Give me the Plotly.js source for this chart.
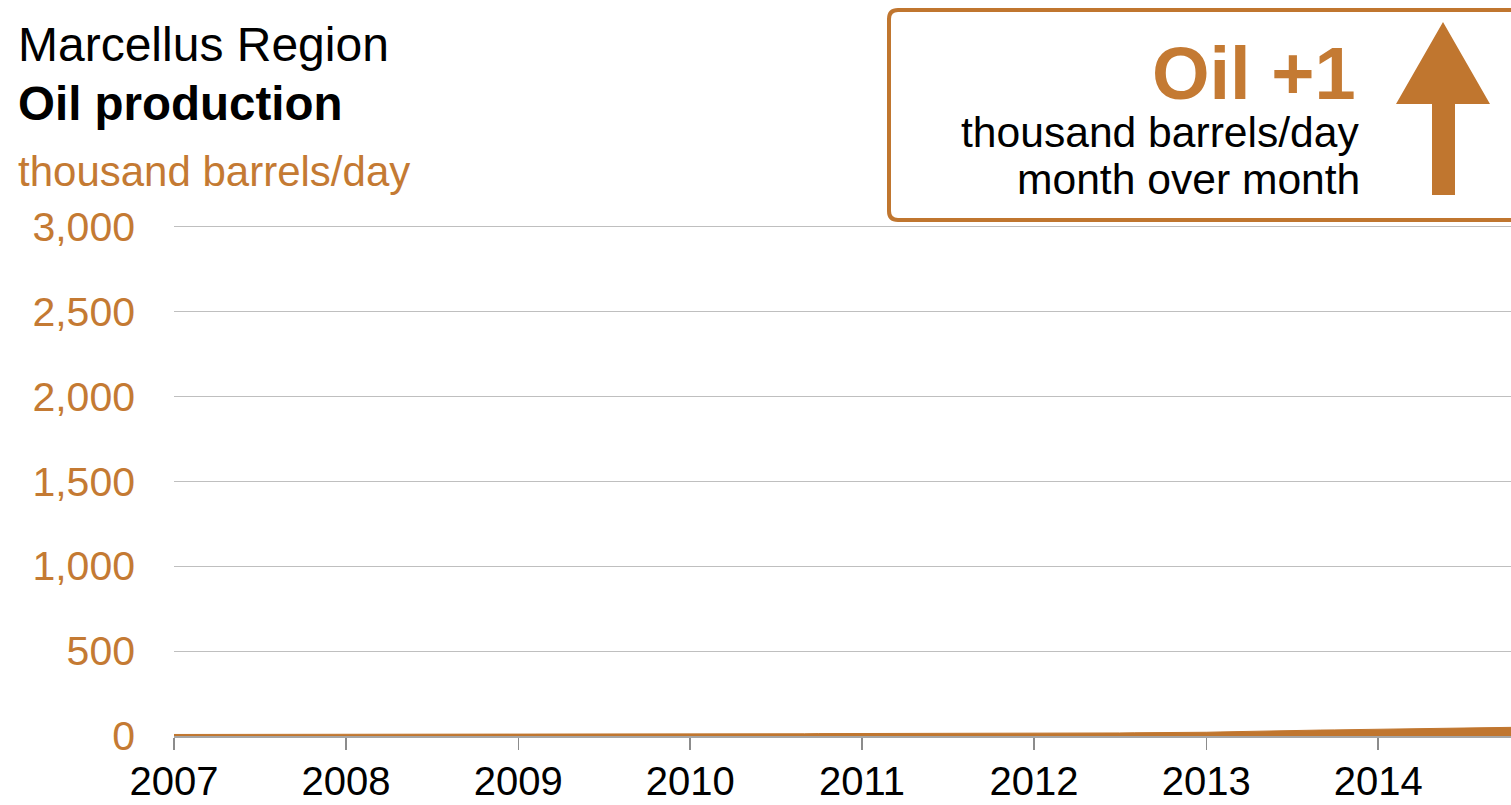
<!DOCTYPE html>
<html>
<head>
<meta charset="utf-8">
<script src="https://cdn.plot.ly/plotly-3.0.1.min.js"></script>
<style>html,body{margin:0;padding:0;background:#fff;}#chart{width:1511px;height:805px;}</style>
</head>
<body>
<div id="chart"></div>
<script>
// Monthly Marcellus oil production, thousand barrels/day
const months = [];
for (let y = 2007; y <= 2014; y++) {
  for (let m = 1; m <= 12; m++) months.push(y + '-' + String(m).padStart(2, '0') + '-01');
}
const prod2007 = [9,9,9,9,10,10,10,10,10,11,11,11];
const prod2008 = [11,11,12,12,12,12,12,12,13,13,13,13];
const prod2009 = [12,12,12,12,11,11,11,11,12,12,12,12];
const prod2010 = [12,12,12,12,13,13,13,13,13,14,14,14];
const prod2011 = [14,14,15,15,15,15,16,16,16,16,17,17];
const prod2012 = [17,17,17,18,18,18,18,19,19,19,20,21];
const prod2013 = [22,24,26,28,30,31,32,33,35,36,37,38];
const prod2014 = [39,40,41,42,43,44,45,46,48,49,51,53];
const production = [].concat(prod2007, prod2008, prod2009, prod2010, prod2011, prod2012, prod2013, prod2014);

const yTicks = [0, 500, 1000, 1500, 2000, 2500, 3000];
const yTickLabels = ['0', '500', '1,000', '1,500', '2,000', '2,500', '3,000'];

const ORANGE = '#C0762F';
const ORANGE_TEXT = '#C47A33';
const FONT = '"Liberation Sans", Arial, sans-serif';

// plot area in pixels
const L = 174, R = 1511, T = 223, B = 736;
const px = x => (x - L) / (R - L);
const py = y => (B - y) / (B - T);

const trace = {
  x: months,
  y: production,
  type: 'scatter',
  mode: 'lines',
  fill: 'tozeroy',
  fillcolor: ORANGE,
  line: {color: ORANGE, width: 1},
  hoverinfo: 'x+y'
};

// rounded box path
function roundRect(x0, y0, x1, y1, r) {
  return 'M' + px(x0 + r) + ',' + py(y0) +
    ' L' + px(x1 - r) + ',' + py(y0) +
    ' Q' + px(x1) + ',' + py(y0) + ' ' + px(x1) + ',' + py(y0 + r) +
    ' L' + px(x1) + ',' + py(y1 - r) +
    ' Q' + px(x1) + ',' + py(y1) + ' ' + px(x1 - r) + ',' + py(y1) +
    ' L' + px(x0 + r) + ',' + py(y1) +
    ' Q' + px(x0) + ',' + py(y1) + ' ' + px(x0) + ',' + py(y1 - r) +
    ' L' + px(x0) + ',' + py(y0 + r) +
    ' Q' + px(x0) + ',' + py(y0) + ' ' + px(x0 + r) + ',' + py(y0) + ' Z';
}
function arrowPath() {
  const pts = [[1443,22],[1490,104],[1455,104],[1455,195],[1432,195],[1432,104],[1396,104]];
  return 'M' + pts.map(p => px(p[0]) + ',' + py(p[1])).join(' L') + ' Z';
}

const layout = {
  width: 1511, height: 805,
  margin: {l: L, r: 0, t: T, b: 805 - B, pad: 0},
  paper_bgcolor: '#fff', plot_bgcolor: '#fff',
  showlegend: false,
  font: {family: FONT, size: 41, color: '#000'},
  xaxis: {
    type: 'date',
    range: ['2007-01-01', '2014-10-10'],
    tick0: '2007-01-01', dtick: 'M12', tickformat: '%Y',
    ticks: 'outside', ticklen: 12, tickwidth: 1.5, tickcolor: '#8C8C8C',
    showline: true, linecolor: '#A6A6A6', linewidth: 2,
    showgrid: false, zeroline: false,
    layer: 'below traces',
    ticklabelstandoff: -3,
    tickfont: {family: FONT, size: 40, color: '#000'}
  },
  yaxis: {
    range: [0, 3020],
    tickvals: yTicks, ticktext: yTickLabels,
    ticks: '', showline: false,
    gridcolor: '#BFBFBF', gridwidth: 1,
    zeroline: false,
    ticklabelstandoff: 38,
    tickfont: {family: FONT, size: 41, color: ORANGE_TEXT}
  },
  shapes: [
    {type: 'path', xref: 'paper', yref: 'paper', path: roundRect(889, 10, 1530, 220, 9),
     line: {color: ORANGE, width: 4}, fillcolor: 'rgba(255,255,255,0)', layer: 'above'},
    {type: 'path', xref: 'paper', yref: 'paper', path: arrowPath(),
     line: {width: 0}, fillcolor: ORANGE, layer: 'above'}
  ],
  annotations: [
    {text: 'Marcellus Region', xref: 'paper', yref: 'paper', x: px(16), y: py(45),
     xanchor: 'left', yanchor: 'middle', showarrow: false,
     font: {family: FONT, size: 48, color: '#000'}},
    {text: '<b>Oil production</b>', xref: 'paper', yref: 'paper', x: px(16), y: py(103),
     xanchor: 'left', yanchor: 'middle', showarrow: false,
     font: {family: FONT, size: 47.5, color: '#000'}},
    {text: 'thousand barrels/day', xref: 'paper', yref: 'paper', x: px(16), y: py(171),
     xanchor: 'left', yanchor: 'middle', showarrow: false,
     font: {family: FONT, size: 42, color: ORANGE_TEXT}},
    {text: '<b>Oil +1</b>', xref: 'paper', yref: 'paper', x: px(1358), y: py(74),
     xanchor: 'right', yanchor: 'middle', showarrow: false,
     font: {family: FONT, size: 74, color: ORANGE_TEXT}},
    {text: 'thousand barrels/day', xref: 'paper', yref: 'paper', x: px(1362), y: py(132),
     xanchor: 'right', yanchor: 'middle', showarrow: false,
     font: {family: FONT, size: 42.6, color: '#000'}},
    {text: 'month over month', xref: 'paper', yref: 'paper', x: px(1362), y: py(179),
     xanchor: 'right', yanchor: 'middle', showarrow: false,
     font: {family: FONT, size: 42.6, color: '#000'}}
  ]
};

Plotly.newPlot('chart', [trace], layout, {displayModeBar: false, staticPlot: true});
</script>
</body>
</html>
